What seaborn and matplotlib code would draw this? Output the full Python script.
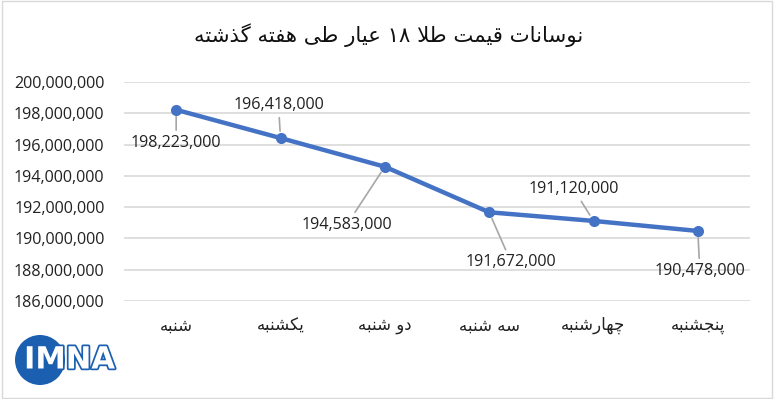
import re
import matplotlib
matplotlib.use("Agg")
import matplotlib.pyplot as plt
import matplotlib.patheffects as pe
from matplotlib.patches import Circle, Rectangle
from matplotlib.transforms import IdentityTransform
from matplotlib.ticker import FuncFormatter
import pandas as pd
import seaborn as sns

# ---------------- data ----------------
title = "نوسانات قیمت طلا ۱۸ عیار طی هفته گذشته"
days = ["شنبه", "یکشنبه", "دو شنبه", "سه شنبه", "چهارشنبه", "پنجشنبه"]
prices = [198223000, 196418000, 194583000, 191672000, 191120000, 190478000]
y_ticks = [186000000, 188000000, 190000000, 192000000, 194000000, 196000000, 198000000, 200000000]
logo_text = "IMNA"

# ---------------- minimal Persian shaping (presentation forms) ----------------
FORMS = {  # isolated, final, initial, medial
    "\u0627": ("\uFE8D", "\uFE8E", None, None),
    "\u0628": ("\uFE8F", "\uFE90", "\uFE91", "\uFE92"),
    "\u067E": ("\uFB56", "\uFB57", "\uFB58", "\uFB59"),
    "\u062A": ("\uFE95", "\uFE96", "\uFE97", "\uFE98"),
    "\u062C": ("\uFE9D", "\uFE9E", "\uFE9F", "\uFEA0"),
    "\u0686": ("\uFB7A", "\uFB7B", "\uFB7C", "\uFB7D"),
    "\u062F": ("\uFEA9", "\uFEAA", None, None),
    "\u0630": ("\uFEAB", "\uFEAC", None, None),
    "\u0631": ("\uFEAD", "\uFEAE", None, None),
    "\u0632": ("\uFEAF", "\uFEB0", None, None),
    "\u0633": ("\uFEB1", "\uFEB2", "\uFEB3", "\uFEB4"),
    "\u0634": ("\uFEB5", "\uFEB6", "\uFEB7", "\uFEB8"),
    "\u0637": ("\uFEC1", "\uFEC2", "\uFEC3", "\uFEC4"),
    "\u0639": ("\uFEC9", "\uFECA", "\uFECB", "\uFECC"),
    "\u0641": ("\uFED1", "\uFED2", "\uFED3", "\uFED4"),
    "\u0642": ("\uFED5", "\uFED6", "\uFED7", "\uFED8"),
    "\u06A9": ("\uFB8E", "\uFB8F", "\uFB90", "\uFB91"),
    "\u06AF": ("\uFB92", "\uFB93", "\uFB94", "\uFB95"),
    "\u0644": ("\uFEDD", "\uFEDE", "\uFEDF", "\uFEE0"),
    "\u0645": ("\uFEE1", "\uFEE2", "\uFEE3", "\uFEE4"),
    "\u0646": ("\uFEE5", "\uFEE6", "\uFEE7", "\uFEE8"),
    "\u0647": ("\uFEE9", "\uFEEA", "\uFEEB", "\uFEEC"),
    "\u0648": ("\uFEED", "\uFEEE", None, None),
    "\u06CC": ("\uFBFC", "\uFBFD", "\uFBFE", "\uFBFF"),
}


def dual(c):
    return c in FORMS and FORMS[c][2] is not None


def shape(s):
    out = []
    i = 0
    n = len(s)
    while i < n:
        c = s[i]
        if c not in FORMS:
            out.append(c)
            i += 1
            continue
        prev = s[i - 1] if i > 0 else ""
        join_prev = dual(prev)
        # lam-alef ligature
        if c == "\u0644" and i + 1 < n and s[i + 1] == "\u0627":
            out.append("\uFEFC" if join_prev else "\uFEFB")
            i += 2
            continue
        nxt = s[i + 1] if i + 1 < n else ""
        join_next = dual(c) and nxt in FORMS
        iso, fin, ini, med = FORMS[c]
        if join_prev and join_next:
            out.append(med)
        elif join_prev:
            out.append(fin)
        elif join_next:
            out.append(ini)
        else:
            out.append(iso)
        i += 1
    vis = "".join(out)[::-1]
    vis = re.sub(r"[0-9\u06F0-\u06F9]+", lambda m: m.group()[::-1], vis)
    return vis


# ---------------- figure ----------------
sns.set_theme(style="white")
plt.rcParams["font.family"] = ["DejaVu Sans"]
NUM_FONT = ["Open Sans", "DejaVu Sans"]
BLUE = "#4472C4"
NUM_SIZE = 11.6

fig = plt.figure(figsize=(7.74, 3.99), dpi=100)
ax = fig.add_axes([124 / 774, 98 / 399, 626 / 774, 219 / 399])

df = pd.DataFrame({"day": days, "price": prices})
sns.lineplot(data=df, x="day", y="price", sort=False, ax=ax, color=BLUE,
             linewidth=3.2, marker="o", markersize=8, markeredgewidth=0)

ax.set_xlim(-0.5, len(days) - 0.5)
ax.set_ylim(y_ticks[0], y_ticks[-1])
ax.set_yticks(y_ticks)
ax.yaxis.set_major_formatter(FuncFormatter(lambda v, p: f"{v:,.0f}"))
ax.set_xticks(range(len(days)))
ax.set_xticklabels([shape(d) for d in days], fontsize=12)
for t in ax.get_yticklabels():
    t.set_fontfamily(NUM_FONT)
    t.set_fontsize(NUM_SIZE)
    t.set_color("#222222")
for t in ax.get_xticklabels():
    t.set_color("#222222")
ax.tick_params(axis="y", length=0, pad=14)
ax.tick_params(axis="x", length=0, pad=11)
ax.set_xlabel("")
ax.set_ylabel("")
ax.grid(axis="y", color="#d9d9d9", linewidth=1.2)
ax.grid(axis="x", visible=False)
ax.set_axisbelow(True)
for sp in ax.spines.values():
    sp.set_visible(False)

offsets = [(0, -33), (-2, 33), (-38, -58), (22, -50), (-20, 32), (2, -40)]
for i, (v, off) in enumerate(zip(prices, offsets)):
    ax.annotate(f"{v:,.0f}", xy=(i, v), xytext=off, textcoords="offset pixels",
                ha="center", va="center", fontsize=NUM_SIZE, family=NUM_FONT,
                color="#222222",
                arrowprops=dict(arrowstyle="-", color="#a6a6a6", lw=1.2,
                                shrinkA=1, shrinkB=5))

fig.text(389 / 774, 1 - 35 / 399, shape(title), ha="center", va="center",
         fontsize=15.3, color="#111111")

# border
fig.add_artist(Rectangle((0.002, 0.002), 0.996, 0.996, transform=fig.transFigure,
                         fill=False, edgecolor="#d9d9d9", linewidth=1))

# logo
fig.add_artist(Circle((40, 399 - 360), 25, transform=IdentityTransform(),
                      facecolor="#1b5fb0", edgecolor="none"))
fig.text(24 / 774, 1 - 360 / 399, logo_text, ha="left", va="center",
         fontsize=22, fontweight="bold", color="white", family=["DejaVu Sans"],
         path_effects=[pe.withStroke(linewidth=2.5, foreground="#1b5fb0")])

fig.savefig("out.png", dpi=100)
